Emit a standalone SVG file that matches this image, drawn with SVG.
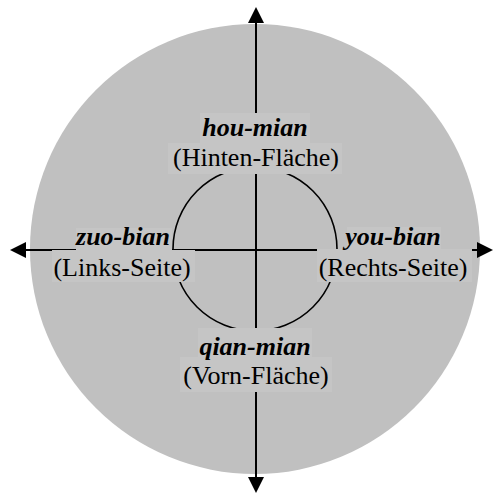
<svg xmlns="http://www.w3.org/2000/svg" width="493" height="494" viewBox="0 0 493 494">
<style>
.bg{fill:#c0c0c0}
.lab{fill:#c5c5c5}
.axis{stroke:#000;stroke-width:2;fill:none}
.ring{stroke:#000;stroke-width:1.6;fill:none}
text{font-family:"Liberation Serif","Times New Roman",serif;font-size:26px;fill:#000;text-anchor:middle}
.bi{font-weight:bold;font-style:italic}
</style>
<defs>
<marker id="arr" markerUnits="userSpaceOnUse" markerWidth="16" markerHeight="16" refX="0" refY="8" orient="auto-start-reverse" viewBox="0 0 16 16">
<path d="M0,0 L16,8 L0,16 z" fill="#000"/>
</marker>
</defs>
<circle class="bg" cx="255" cy="249" r="225"/>
<g id="connectors">
<circle class="ring" cx="255" cy="249" r="82"/>
<line class="axis" x1="256" y1="23" x2="256" y2="477" marker-start="url(#arr)" marker-end="url(#arr)"/>
<line class="axis" x1="26" y1="250" x2="477" y2="250" marker-start="url(#arr)" marker-end="url(#arr)"/>
</g>
<g id="hou-mian">
<rect class="lab" x="200" y="113" width="110" height="30"/>
<rect class="lab" x="168" y="143" width="174" height="31"/>
<text class="bi" x="255" y="136">hou-mian</text>
<text x="256" y="166">(Hinten-Fläche)</text>
</g>
<g id="zuo-bian">
<rect class="lab" x="52" y="250" width="143" height="32"/>
<rect class="lab" x="76" y="228" width="96" height="23"/>
<text class="bi" x="123" y="245">zuo-bian</text>
<text x="122" y="276">(Links-Seite)</text>
</g>
<g id="you-bian">
<rect class="lab" x="347" y="227" width="94" height="23"/>
<rect class="lab" x="317" y="249" width="155" height="33"/>
<text class="bi" x="393" y="245">you-bian</text>
<text x="393" y="276">(Rechts-Seite)</text>
</g>
<g id="qian-mian">
<rect class="lab" x="198" y="328" width="114" height="29"/>
<rect class="lab" x="180" y="357" width="152" height="35"/>
<text class="bi" x="255" y="355">qian-mian</text>
<text x="256" y="384">(Vorn-Fläche)</text>
</g>
</svg>
